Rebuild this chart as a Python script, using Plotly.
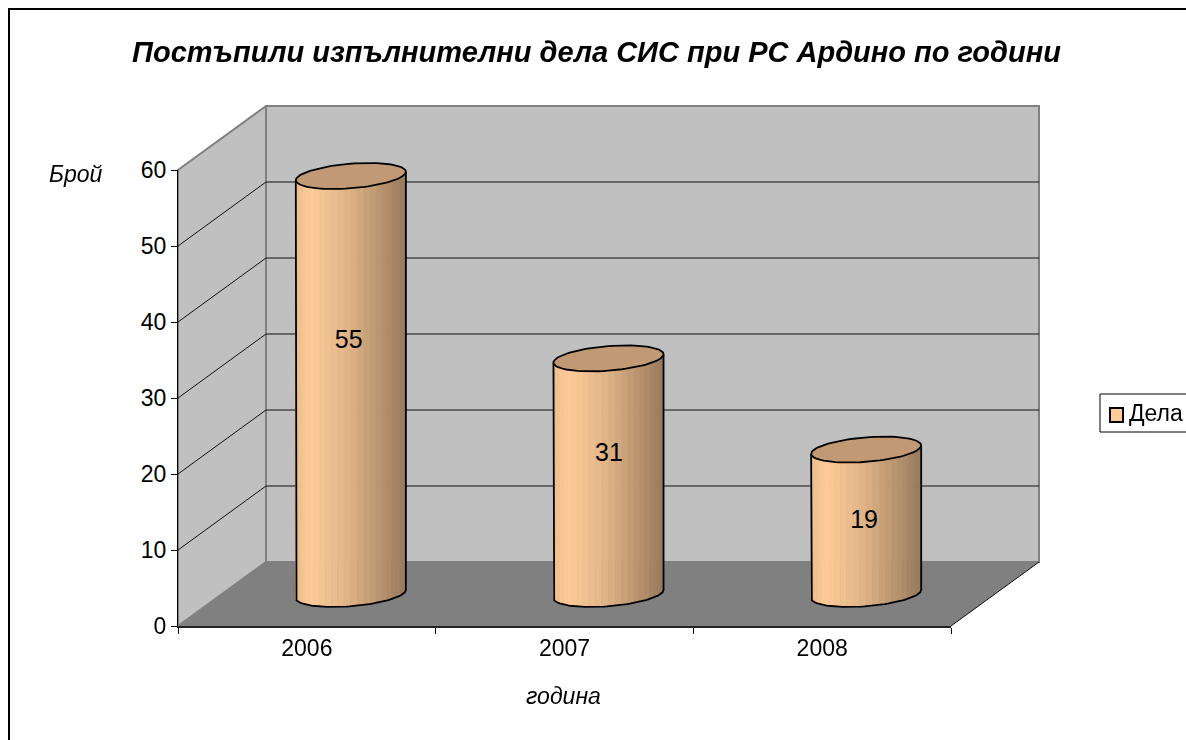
import numpy as np
import plotly.graph_objects as go

# --- data ---
years = ["2006", "2007", "2008"]
cases = [55, 31, 19]
series_name = "Дела"
value_ticks = [0, 10, 20, 30, 40, 50, 60]
title_text = "Постъпили изпълнителни дела СИС при РС Ардино по години"
y_title = "Брой"
x_title = "година"

# --- geometry / style (pixel layout of the picture) ---
FIG_W, FIG_H = 1186, 740
PLOT_L, PLOT_R, PLOT_T, PLOT_B = 178, 951, 170, 626
DEPTH_PX_X, DEPTH_PX_Y = 88, 64
YMAX = 60
px_per_cat = (PLOT_R - PLOT_L) / len(years)
px_per_val = (PLOT_B - PLOT_T) / YMAX
DX = DEPTH_PX_X / px_per_cat     # depth offset in category units
DY = DEPTH_PX_Y / px_per_val     # depth offset in value units
R_X = 0.202                      # cylinder radius, category units
R_D = 0.203                      # cylinder radius, fraction of depth
LABEL_FRAC = [0.6046, 0.5926, 0.499]
LABEL_SHIFT = [-0.008, 0.002, -0.008]
FONT = "Liberation Sans"
N_STRIPS = 26

WALL = "#C0C0C0"
FLOOR = "#808080"
EDGE = "#808080"
TOP_CAP = "#C19A75"
SWATCH = "#FFCC99"

world_x_range = [-0.5 - PLOT_L / px_per_cat, -0.5 + (FIG_W - PLOT_L) / px_per_cat]
world_y_range = [-(FIG_H - PLOT_B) / px_per_val, PLOT_B / px_per_val]


def project(c, v, d):
    """Oblique projection: category c, value v, depth d (0 front .. 1 back)."""
    return c + d * DX, v + d * DY


def side_colour(t):
    stops = [(0.0, (236, 190, 142)), (0.14, (255, 204, 153)), (0.5, (222, 178, 134)), (1.0, (153, 122, 92))]
    ts = [s[0] for s in stops]
    return "rgb(%d,%d,%d)" % tuple(np.interp(t, ts, [s[1][i] for s in stops]) for i in range(3))


def px_x(p):
    return p / FIG_W


def px_y(p):
    return 1 - p / FIG_H


fig = go.Figure()


def poly(xs, ys, fill=None, line=None, width=1):
    fig.add_trace(go.Scatter(
        x=xs, y=ys, mode="lines", fill="toself" if fill else "none",
        fillcolor=fill, line=dict(color=line or "rgba(0,0,0,0)", width=width if line else 0),
        hoverinfo="skip", showlegend=False))


n = len(years)
L, R = -0.5, n - 0.5


def corners(pts):
    return [project(*p)[0] for p in pts], [project(*p)[1] for p in pts]


# walls
xs, ys = corners([(L, 0, 1), (R, 0, 1), (R, YMAX, 1), (L, YMAX, 1), (L, 0, 1)])
poly(xs, ys, WALL, EDGE, 2)
xs, ys = corners([(L, 0, 0), (L, 0, 1), (L, YMAX, 1), (L, YMAX, 0), (L, 0, 0)])
poly(xs, ys, WALL, EDGE, 2)

# gridlines
for v in value_ticks[1:-1]:
    xs, ys = corners([(L, v, 0), (L, v, 1), (R, v, 1)])
    poly(xs, ys, None, "#111111", 1)

# floor
xs, ys = corners([(L, 0, 0), (L, 0, 1), (R, 0, 1), (R, 0, 0), (L, 0, 0)])
poly(xs, ys, FLOOR, None)
xs, ys = corners([(R, 0, 0), (R, 0, 1)])
poly(xs, ys, None, "#111111", 1)

# cylinders
th0 = np.arctan2(R_D * DEPTH_PX_X, R_X * px_per_cat)


def ring(c, v, thetas):
    return project(c + R_X * np.cos(thetas), v, 0.5 + R_D * np.sin(thetas))


for i, v in enumerate(cases):
    front = np.linspace(th0 + np.pi, th0 + 2 * np.pi, N_STRIPS + 1)
    for k in range(N_STRIPS):
        a = np.linspace(front[k], front[k + 1], 3)
        xb, yb = ring(i, 0, a)
        xt, yt = ring(i, v, a[::-1])
        col = side_colour(float(1 - (np.cos(a[1] - th0 - np.pi) + 1) / 2))
        poly(list(xb) + list(xt) + [xb[0]], list(yb) + list(yt) + [yb[0]], col, col, 0.6)
    a = np.linspace(th0 + np.pi, th0 + 2 * np.pi, 60)
    xb, yb = ring(i, 0, a)
    xl, yl = ring(i, v, np.array([a[0]]))
    xr, yr = ring(i, v, np.array([a[-1]]))
    poly([xl[0]] + list(xb) + [xr[0]], [yl[0]] + list(yb) + [yr[0]], None, "#000000", 1.8)
    a = np.linspace(0, 2 * np.pi, 90)
    xc, yc = ring(i, v, a)
    poly(xc, yc, TOP_CAP, "#000000", 1.8)

# data labels
lab_x, lab_y = project(np.arange(n) + np.array(LABEL_SHIFT), np.array(cases) * np.array(LABEL_FRAC), 0.5)
fig.add_trace(go.Scatter(
    x=lab_x, y=lab_y, mode="text", text=[str(v) for v in cases],
    textposition="middle center", textfont=dict(family=FONT, size=25, color="#000000"),
    hoverinfo="skip", showlegend=False))

# the real axes in front of the box
fig.add_trace(go.Scatter(
    x=years, y=cases, mode="markers", name=series_name, xaxis="x2", yaxis="y2",
    marker=dict(size=1, color=SWATCH), opacity=0, hoverinfo="skip", showlegend=False))

fig.update_layout(
    width=FIG_W, height=FIG_H, autosize=False,
    margin=dict(l=0, r=0, t=0, b=0, autoexpand=False),
    showlegend=False,
    paper_bgcolor="#FFFFFF", plot_bgcolor="rgba(0,0,0,0)",
    font=dict(family=FONT, color="#000000", size=23),
    title=dict(text="<b><i>%s</i></b>" % title_text, x=px_x(596.5), xanchor="center",
               y=px_y(52), yanchor="middle", font=dict(size=29, family=FONT)),
    xaxis=dict(domain=[0, 1], range=world_x_range, visible=False, fixedrange=True),
    yaxis=dict(domain=[0, 1], range=world_y_range, visible=False, fixedrange=True),
    xaxis2=dict(domain=[PLOT_L / FIG_W, PLOT_R / FIG_W], anchor="y2", type="category",
                categoryorder="array", categoryarray=years, range=[-0.5, n - 0.5],
                tickson="boundaries", ticks="outside", ticklen=6, tickcolor="#000000",
                showline=True, linecolor="#222222", linewidth=2, showgrid=False, zeroline=False,
                tickfont=dict(size=23), fixedrange=True),
    yaxis2=dict(domain=[1 - PLOT_B / FIG_H, 1 - PLOT_T / FIG_H], anchor="x2", range=[0, YMAX],
                tickvals=value_ticks, ticks="outside", ticklen=6, tickcolor="#000000",
                showline=True, linecolor="#000000", linewidth=1, showgrid=False, zeroline=False,
                tickfont=dict(size=23), fixedrange=True),
    annotations=[
        dict(text="<i>%s</i>" % y_title, x=px_x(76), y=px_y(174), xref="paper", yref="paper",
             xanchor="center", yanchor="middle", showarrow=False, font=dict(size=23)),
        dict(text="<i>%s</i>" % x_title, x=px_x(563), y=px_y(696), xref="paper", yref="paper",
             xanchor="center", yanchor="middle", showarrow=False, font=dict(size=23)),
        dict(text=series_name, x=px_x(1156), y=px_y(413), xref="paper", yref="paper",
             xanchor="center", yanchor="middle", showarrow=False, font=dict(size=23)),
    ],
    shapes=[
        dict(type="rect", xref="paper", yref="paper", x0=px_x(9), x1=1.2, y0=-0.2, y1=px_y(9),
             line=dict(color="#000000", width=2), fillcolor="rgba(0,0,0,0)", layer="below"),
        dict(type="rect", xref="paper", yref="paper", x0=px_x(1100), x1=1.1, y0=px_y(432), y1=px_y(394),
             line=dict(color="#000000", width=1), fillcolor="#FFFFFF", layer="below"),
        dict(type="rect", xref="paper", yref="paper", x0=px_x(1110), x1=px_x(1123), y0=px_y(422), y1=px_y(408),
             line=dict(color="#000000", width=2), fillcolor=SWATCH, layer="below"),
    ],
)

fig.write_html("out.html", default_width="%dpx" % FIG_W, default_height="%dpx" % FIG_H,
               config=dict(displayModeBar=False),
               post_script="document.body.style.margin='0';")
